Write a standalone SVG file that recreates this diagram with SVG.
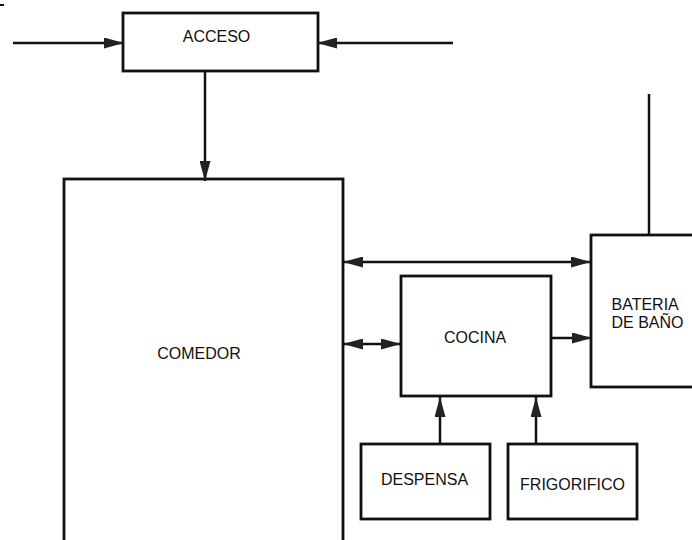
<svg xmlns="http://www.w3.org/2000/svg" width="692" height="540" viewBox="0 0 692 540">
<style>
.box{fill:#fff;stroke:#111;stroke-width:2.8}
.ln{fill:none;stroke:#111;stroke-width:2.5}
.t{font-family:"Liberation Sans",Arial,sans-serif;font-size:16px;fill:#111}
</style>
<defs>
<marker id="ah" markerUnits="userSpaceOnUse" markerWidth="20" markerHeight="11" refX="20" refY="5.5" orient="auto-start-reverse" viewBox="0 0 20 11">
<path d="M0,0 L20,5.5 L0,11 z" fill="#222"/>
</marker>
</defs>
<rect width="692" height="540" fill="#fff"/>
<line x1="0" y1="5" x2="4" y2="5" stroke="#111" stroke-width="2"/>
<g id="acceso">
<rect class="box" x="123" y="13" width="195" height="58"/>
<text class="t" x="216.5" y="42" text-anchor="middle">ACCESO</text>
</g>
<g id="comedor">
<rect class="box" x="64" y="179" width="279" height="380"/>
<text class="t" x="199" y="359" text-anchor="middle">COMEDOR</text>
</g>
<g id="cocina">
<rect class="box" x="401" y="276" width="150" height="120"/>
<text class="t" x="475" y="342.5" text-anchor="middle">COCINA</text>
</g>
<g id="bateria">
<rect class="box" x="591" y="235" width="110" height="152"/>
<text class="t" x="611.5" y="309.5">BATERIA</text>
<text class="t" x="611.5" y="327.5">DE BAÑO</text>
</g>
<g id="despensa">
<rect class="box" x="361" y="444" width="129" height="75"/>
<text class="t" x="424.5" y="485" text-anchor="middle">DESPENSA</text>
</g>
<g id="frigorifico">
<rect class="box" x="508" y="444" width="129" height="75"/>
<text class="t" x="572.5" y="490" text-anchor="middle">FRIGORIFICO</text>
</g>
<g id="connectors">
<line class="ln" x1="13" y1="43" x2="124" y2="43" marker-end="url(#ah)"/>
<line class="ln" x1="453" y1="43" x2="317" y2="43" marker-end="url(#ah)"/>
<line class="ln" x1="205" y1="71" x2="205" y2="181" marker-end="url(#ah)"/>
<line class="ln" x1="343" y1="262" x2="591" y2="262" marker-start="url(#ah)" marker-end="url(#ah)"/>
<line class="ln" x1="343" y1="344" x2="401" y2="344" marker-start="url(#ah)" marker-end="url(#ah)"/>
<line class="ln" x1="551" y1="338" x2="592" y2="338" marker-end="url(#ah)"/>
<line class="ln" x1="649" y1="94" x2="649" y2="236"/>
<line class="ln" x1="440" y1="444" x2="440" y2="397" marker-end="url(#ah)"/>
<line class="ln" x1="536" y1="444" x2="536" y2="397" marker-end="url(#ah)"/>
</g>
</svg>
